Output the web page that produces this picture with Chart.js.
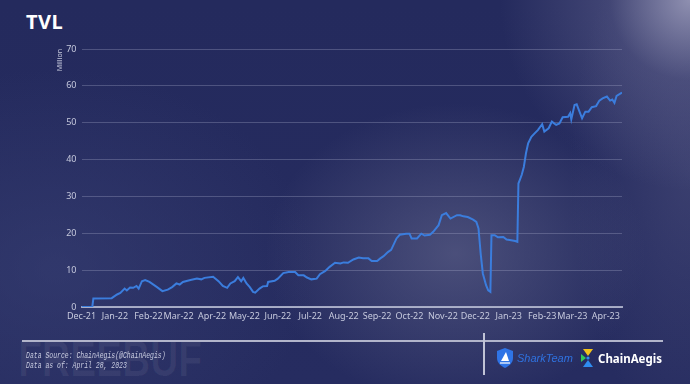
<!DOCTYPE html>
<html>
<head>
<meta charset="utf-8">
<script src="https://cdn.jsdelivr.net/npm/chart.js@4.4.1/dist/chart.umd.min.js"></script>
<style>
  html, body { margin: 0; padding: 0; }
  body {
    width: 690px; height: 384px; overflow: hidden; position: relative;
    background:
      radial-gradient(circle at 100% 0%, rgba(160,160,190,0.85) 0px, rgba(120,120,160,0.35) 80px, rgba(0,0,0,0) 190px),
      radial-gradient(ellipse 190px 150px at 66% 66%, rgba(105,108,145,0.55), rgba(0,0,0,0)),
      radial-gradient(ellipse 120px 260px at 100% 45%, rgba(90,92,135,0.4), rgba(0,0,0,0)),
      radial-gradient(ellipse 260px 200px at 8% 70%, rgba(60,68,120,0.5), rgba(0,0,0,0)),
      linear-gradient(180deg, #242a5d 0%, #262c60 100%);
    font-family: "Noto Sans", "DejaVu Sans", sans-serif;
  }
  #titel { position: absolute; left: 26px; top: 8px; color: #fff; font-weight: bold; font-size: 20px; letter-spacing: 0.5px; }
  #okvir { position: absolute; left: 0; top: 0; width: 690px; height: 384px; }
  #linija { position: absolute; left: 22px; top: 340px; width: 641px; height: 2px; background: #b2b5cb; }
  #vert { position: absolute; left: 483px; top: 333px; width: 1.5px; height: 42px; background: #c0c3d6; }
  #izvor { position: absolute; left: 26px; top: 351px; color: #c9cce0; font: italic 8.5px "Liberation Mono", monospace; line-height: 10px;
           transform: scaleX(0.76); transform-origin: left top; white-space: nowrap; }
  #vodeni { position: absolute; left: 18px; top: 330px; color: rgba(255,255,255,0.06); font: bold 50px "Liberation Sans", sans-serif;
            transform: scaleX(0.78); transform-origin: left top; }
  #shark { position: absolute; left: 496px; top: 348px; display: flex; align-items: center; }
  #shark span { color: #2f72e0; font: italic 11px "Liberation Sans", sans-serif; margin-left: 3px; }
  #aegis { position: absolute; left: 580px; top: 348px; display: flex; align-items: center; }
  #aegis span { color: #ffffff; font: bold 11.5px "Noto Sans", sans-serif; margin-left: 2px; }
</style>
</head>
<body>
<div id="vodeni">FREEBUF</div>
<div id="titel">TVL</div>
<div id="okvir"><canvas id="grafikTVL"></canvas></div>
<div id="linija"></div>
<div id="vert"></div>
<div id="izvor">Data Source: ChainAegis(@ChainAegis)<br>Data as of: April 28, 2023</div>
<div id="shark">
  <svg width="18" height="20" viewBox="0 0 18 20">
    <path d="M9 0 L17 3 L17 10 C17 15 13 18 9 20 C5 18 1 15 1 10 L1 3 Z" fill="#2f74e6"/>
    <path d="M10 4 L5 13 L13 13 Z" fill="#ffffff"/>
    <path d="M4 15 L14 15" stroke="#ffffff" stroke-width="1.2"/>
  </svg>
  <span>SharkTeam</span>
</div>
<div id="aegis">
  <svg width="16" height="20" viewBox="0 0 16 20">
    <path d="M3 1 L13 1 L8 8 Z" fill="#f2c21b"/>
    <path d="M1 6 L6 10 L1 14 Z" fill="#34c759"/>
    <path d="M3 19 L13 19 L8 12 Z" fill="#2f8cf0"/>
    <circle cx="8" cy="10" r="1.6" fill="#2f8cf0"/>
  </svg>
  <span>ChainAegis</span>
</div>
<script>
// dani od 1. decembra 2021.
const dani = [0, 10, 11, 28, 29, 33, 36, 40, 42, 45, 48, 51, 53, 56, 59, 63, 70, 75, 80, 84,
  88, 91, 94, 101, 107, 111, 114, 122, 127, 131, 135, 138, 142, 145, 148, 150, 153, 156, 159, 161,
  165, 168, 172, 173, 179, 182, 187, 192, 198, 201, 206, 209, 213, 218, 221, 226, 230, 235, 240, 243,
  247, 252, 257, 261, 266, 269, 274, 277, 280, 284, 287, 292, 295, 301, 304, 306, 311, 315, 318, 323,
  326, 331, 334, 338, 342, 348, 351, 354, 358, 363, 366, 368, 370, 372, 375, 377, 379, 380, 383, 386,
  391, 394, 397, 402, 404, 405, 408, 410, 412, 414, 417, 420, 423, 427, 429, 433, 436, 440, 443, 446,
  451, 453, 454, 457, 459, 464, 467, 470, 473, 477, 480, 483, 487, 490, 492, 494, 496, 501];

// TVL u milionima
const tvl = [0, 0, 2.3, 2.4, 2.6, 3.4, 3.8, 5.0, 4.5, 5.3, 5.2, 5.7, 5.0, 7.0, 7.3, 6.8, 5.4, 4.3, 4.7, 5.4,
  6.4, 6.1, 6.8, 7.3, 7.7, 7.5, 7.9, 8.2, 7.0, 5.7, 5.2, 6.4, 7.0, 8.1, 7.0, 7.9, 6.4, 5.4, 4.1, 3.9,
  5.0, 5.6, 5.7, 6.8, 7.1, 7.7, 9.2, 9.5, 9.5, 8.6, 8.6, 8.0, 7.5, 7.7, 8.9, 9.8, 10.9, 12.0, 11.8, 12.1,
  12.0, 12.9, 13.4, 13.2, 13.2, 12.5, 12.5, 13.2, 13.8, 14.9, 15.5, 18.6, 19.6, 19.9, 19.9, 18.6, 18.6, 19.9, 19.4, 19.6,
  20.4, 22.2, 24.9, 25.5, 24.0, 24.9, 24.9, 24.6, 24.4, 23.7, 23.1, 21.3, 14.5, 9.1, 5.9, 4.5, 4.1, 19.5, 19.5, 18.9,
  19.0, 18.3, 18.2, 17.9, 17.7, 33.5, 35.8, 38.0, 41.7, 44.4, 46.2, 47.1, 48.0, 49.6, 47.6, 48.5, 50.3, 49.4, 49.8, 51.5,
  51.6, 52.6, 50.9, 54.8, 55.0, 51.2, 53.0, 53.0, 54.2, 54.5, 56.0, 56.6, 57.1, 56.0, 56.3, 55.4, 57.3, 58.2];

// oznake meseci na x osi
const meseci = ['Dec-21', 'Jan-22', 'Feb-22', 'Mar-22', 'Apr-22', 'May-22', 'Jun-22', 'Jul-22', 'Aug-22',
  'Sep-22', 'Oct-22', 'Nov-22', 'Dec-22', 'Jan-23', 'Feb-23', 'Mar-23', 'Apr-23'];
const meseciDani = [0, 31, 62, 90, 121, 151, 182, 212, 243, 274, 304, 335, 365, 396, 427, 455, 486];
const yOznake = [0, 10, 20, 30, 40, 50, 60, 70];

const bojaTeksta = '#c6c9dd';
const font = { family: '"Noto Sans", "DejaVu Sans", sans-serif', size: 9 };

new Chart(document.getElementById('grafikTVL'), {
  type: 'line',
  data: {
    datasets: [{
      label: 'TVL',
      data: dani.map((d, i) => ({ x: d, y: tvl[i] })),
      borderColor: '#3b7ddd',
      borderWidth: 2,
      pointRadius: 0,
      tension: 0,
      fill: false
    }]
  },
  options: {
    responsive: true,
    maintainAspectRatio: false,
    animation: false,
    layout: { padding: { left: 50, top: 49, right: 68, bottom: 57 } },
    plugins: { legend: { display: false }, tooltip: { enabled: false } },
    scales: {
      x: {
        type: 'linear',
        min: 0,
        max: 501,
        afterBuildTicks: (skala) => { skala.ticks = meseciDani.map(v => ({ value: v })); },
        afterFit: (skala) => { skala.height = 20; },
        ticks: {
          color: bojaTeksta,
          font: font,
          padding: 4,
          autoSkip: false,
          maxRotation: 0,
          callback: (v) => meseci[meseciDani.indexOf(v)]
        },
        grid: { display: false, drawTicks: false },
        border: { display: true, color: 'rgba(185,189,212,0.85)', width: 2 }
      },
      y: {
        min: 0,
        max: 70,
        afterBuildTicks: (skala) => { skala.ticks = yOznake.map(v => ({ value: v })); },
        afterFit: (skala) => { skala.width = 31.5; },
        ticks: { color: bojaTeksta, font: font, padding: 5 },
        grid: { color: 'rgba(175,180,210,0.3)', lineWidth: 1, drawTicks: false },
        border: { display: false },
        title: {
          display: true,
          text: 'Million',
          align: 'end',
          color: bojaTeksta,
          font: { family: font.family, size: 7 },
          padding: { top: 6, bottom: 0 }
        }
      }
    }
  }
});
</script>
</body>
</html>
